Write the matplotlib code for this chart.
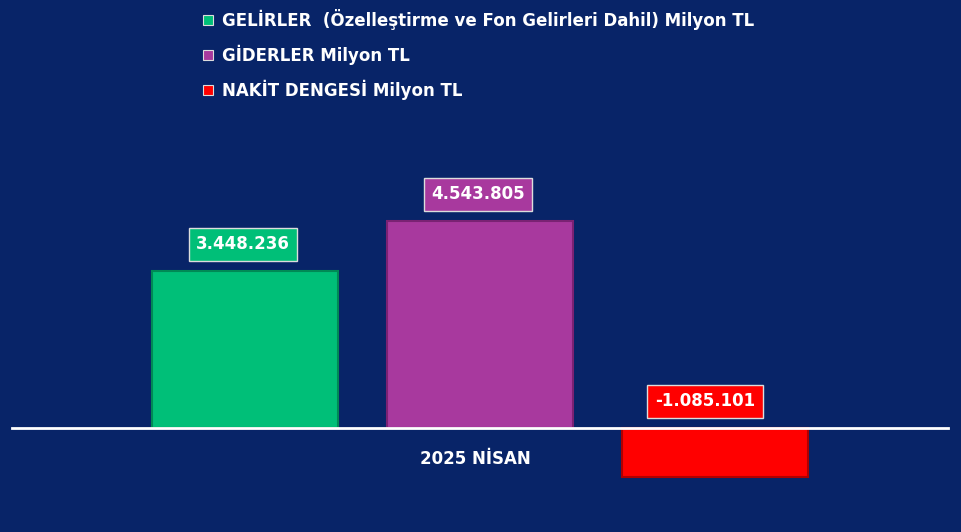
import matplotlib.pyplot as plt
from matplotlib.patches import Rectangle

series = ["GELİRLER  (Özelleştirme ve Fon Gelirleri Dahil) Milyon TL",
          "GİDERLER Milyon TL",
          "NAKİT DENGESİ Milyon TL"]
values = [3448236, 4543805, -1085101]
value_labels = ["3.448.236", "4.543.805", "-1.085.101"]
colors = ["#00bf78", "#a8399e", "#ff0000"]
edge_colors = ["#008a55", "#7a2273", "#b00000"]
category = "2025 NİSAN"

bg = "#082468"
fig = plt.figure(figsize=(9.61, 5.32), dpi=100, facecolor=bg)
ax = fig.add_axes([0, 0, 1, 1])
ax.set_facecolor(bg)

k = 157 / 3448236  # pixels per unit
ax.set_xlim(0, 961)
ax.set_ylim(-104 / k, 428 / k)
ax.axis("off")

centers = [245, 480, 715]
width = 186
for x, v, c, ec in zip(centers, values, colors, edge_colors):
    ax.bar(x, v, width=width, color=c, edgecolor=ec, linewidth=1.5, zorder=2)

for x, v, lab, c in zip(centers, values, value_labels, colors):
    y = max(v, 0) + 27 / k
    ax.text(x - (10 if v < 0 else 2), y, lab, ha="center", va="center", color="white",
            fontsize=12, fontweight="bold", zorder=4,
            bbox=dict(boxstyle="square,pad=0.45", fc=c, ec="#dddddd", lw=1))

ax.plot([12, 948], [0, 0], color="white", lw=2, zorder=3)
ax.text(475, -31 / k, category, ha="center", va="center", color="white",
        fontsize=12, fontweight="bold")

# legend
for i, (name, c) in enumerate(zip(series, colors)):
    ypx = 20 + 35 * i
    fig.patches.append(Rectangle((203 / 961, 1 - (ypx + 5) / 532), 10 / 961, 10 / 532,
                                 transform=fig.transFigure, fc=c, ec="#dddddd", lw=0.8))
    fig.text(222 / 961, 1 - ypx / 532, name, ha="left", va="center", color="white",
             fontsize=12, fontweight="bold")

fig.savefig("out.png", dpi=100, facecolor=bg)
